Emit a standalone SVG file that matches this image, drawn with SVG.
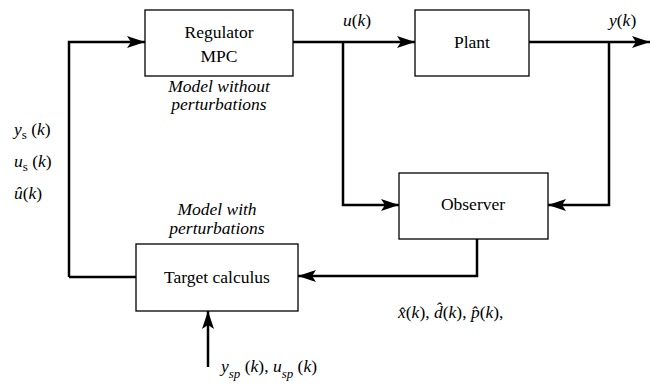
<svg xmlns="http://www.w3.org/2000/svg" width="658" height="390" viewBox="0 0 658 390">
<defs>
<marker id="ah" markerWidth="20" markerHeight="12" refX="18" refY="6" orient="auto" markerUnits="userSpaceOnUse">
<path d="M0,0 L18,6 L0,12 L4,6 Z" fill="#000"/>
</marker>
</defs>
<style>
.box{fill:#fff;stroke:#000;stroke-width:1.3}
.ln{fill:none;stroke:#000;stroke-width:2.5}
text{font-family:"Times New Roman",Times,"Liberation Serif","DejaVu Serif",serif;font-size:17.5px;fill:#000}
.c{text-anchor:middle}
.i{font-style:italic}
.sub{font-size:13px}
</style>
<rect width="658" height="390" fill="#fff"/>
<g id="connectors">
<path class="ln" d="M69,277 L69,42 L145,42" marker-end="url(#ah)"/>
<path class="ln" d="M293,42 L415,42" marker-end="url(#ah)"/>
<path class="ln" d="M343,42 L343,205 L399,205" marker-end="url(#ah)"/>
<path class="ln" d="M529,42 L650,42" marker-end="url(#ah)"/>
<path class="ln" d="M609,42 L609,205 L548,205" marker-end="url(#ah)"/>
<path class="ln" d="M477,239 L477,276 L298,276" marker-end="url(#ah)"/>
<path class="ln" d="M136,277 L69,277"/>
<path class="ln" d="M208,367 L208,311" marker-end="url(#ah)"/>
</g>
<g id="regulator">
<rect class="box" x="145" y="10" width="148" height="66"/>
<text class="c" x="219" y="38">Regulator</text>
<text class="c" x="219" y="62">MPC</text>
<text class="c i" x="219" y="92">Model without</text>
<text class="c i" x="219" y="110">perturbations</text>
</g>
<g id="plant">
<rect class="box" x="415" y="10" width="114" height="66"/>
<text class="c" x="472" y="48">Plant</text>
</g>
<g id="observer">
<rect class="box" x="399" y="173" width="149" height="66"/>
<text class="c" x="473" y="210">Observer</text>
</g>
<g id="target">
<rect class="box" x="136" y="244" width="162" height="67"/>
<text class="c" x="217" y="283">Target calculus</text>
<text class="c i" x="217" y="215">Model with</text>
<text class="c i" x="217" y="234">perturbations</text>
</g>
<g id="labels">
<text x="343" y="26"><tspan class="i">u</tspan>(<tspan class="i">k</tspan>)</text>
<text x="609" y="26"><tspan class="i">y</tspan>(<tspan class="i">k</tspan>)</text>
<text x="14" y="135"><tspan class="i">y</tspan><tspan class="sub" dy="4">s</tspan><tspan dy="-4"> (</tspan><tspan class="i">k</tspan>)</text>
<text x="14" y="167"><tspan class="i">u</tspan><tspan class="sub" dy="4">s</tspan><tspan dy="-4"> (</tspan><tspan class="i">k</tspan>)</text>
<text x="14" y="199"><tspan class="i">û</tspan>(<tspan class="i">k</tspan>)</text>
<text x="398" y="318"><tspan class="i">x̂</tspan>(<tspan class="i">k</tspan>), <tspan class="i">d̂</tspan>(<tspan class="i">k</tspan>),  <tspan class="i">p̂</tspan>(<tspan class="i">k</tspan>),</text>
<text x="221" y="372"><tspan class="i">y</tspan><tspan class="sub i" dy="6">sp</tspan><tspan dy="-6"> (</tspan><tspan class="i">k</tspan>), <tspan class="i">u</tspan><tspan class="sub i" dy="6">sp</tspan><tspan dy="-6"> (</tspan><tspan class="i">k</tspan>)</text>
</g>
</svg>
